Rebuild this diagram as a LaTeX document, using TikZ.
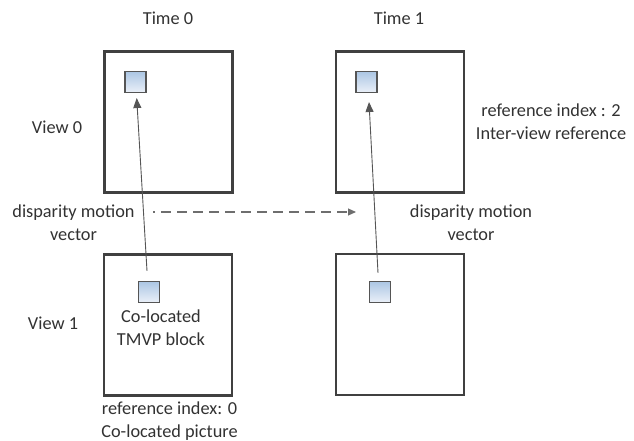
\documentclass[tikz,border=0pt]{standalone}
\usepackage{fontspec}
\setmainfont{Carlito}
\usetikzlibrary{arrows.meta,shadows}
\definecolor{framegray}{RGB}{64,64,64}
\definecolor{linegray}{RGB}{85,85,85}
\definecolor{txtgray}{RGB}{50,50,50}
\definecolor{blocktop}{RGB}{172,198,228}
\definecolor{blockbot}{RGB}{234,240,248}
\begin{document}
\begin{tikzpicture}[x=1pt,y=-1pt,
  picframe/.style={draw=framegray, line width=2.6pt, fill=white,
    minimum width=128pt, minimum height=141pt, inner sep=0pt,
    drop shadow={shadow xshift=1.2pt, shadow yshift=-1.2pt, opacity=0.25}},
  blk/.style={draw=linegray, line width=1.1pt, top color=blocktop, bottom color=blockbot,
    minimum size=21pt, inner sep=0pt},
  lbl/.style={text=txtgray, font=\fontsize{18.3}{23}\selectfont, align=center, inner sep=0pt},
  mv/.style={draw=linegray, line width=0.9pt, -{Triangle[length=10pt,width=8pt]}},
  dmv/.style={draw=linegray!85, line width=1.1pt, dash pattern=on 10pt off 6pt, dash phase=8pt,
    -{Triangle[length=8pt,width=7pt]}}]
\useasboundingbox (0,0) rectangle (634,441);

% four pictures: views (rows) by time instants (columns)
\node[picframe] (p00) at (168.5,122) {};
\node[picframe] (p01) at (400,122) {};
\node[picframe] (p10) at (168,325) {};
\node[picframe] (p11) at (400,324.5) {};

% blocks inside the pictures
\node[blk] (b00) at (135.5,82) {};
\node[blk] (b01) at (366.5,82) {};
\node[blk] (b10) at (149,292) {};
\node[blk] (b11) at (380,292) {};

% headings
\node[lbl] (t0) at (168,18) {Time 0};
\node[lbl] (t1) at (399,18) {Time 1};
\node[lbl] (v0) at (57,127) {View 0};
\node[lbl] (v1) at (53,323) {View 1};

% annotations
\node[lbl] (dl) at (73.5,223) {disparity motion\\vector};
\node[lbl] (dr) at (471,223) {disparity motion\\vector};
\node[lbl] (ri2) at (551,122) {reference index : 2\\Inter-view reference};
\node[lbl] (tmvp) at (161,328) {Co-located\\TMVP block};
\node[lbl] (ri0) at (169.5,421) {reference index: 0\\Co-located picture};

% disparity motion vectors
\draw[mv] ([xshift=-2pt]b10.north) ++(0,-10) coordinate (s0) (s0) -- ([xshift=1.2pt,yshift=-5pt]b00.south);
\draw[mv] ([xshift=-2pt]b11.north) ++(0,-8) coordinate (s1) (s1) -- ([xshift=2.5pt,yshift=-9pt]b01.south);

% inheritance of the vector across time
\coordinate (da) at (153,212);
\coordinate (db) at (356,212);
\draw[dmv] (da) -- (db);
\end{tikzpicture}
\end{document}
